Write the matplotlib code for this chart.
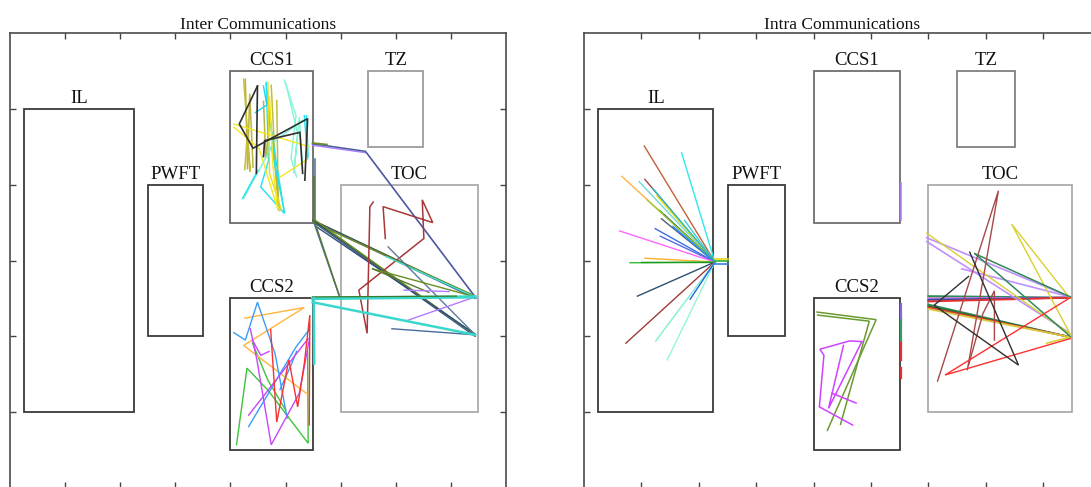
import matplotlib
matplotlib.use("Agg")
import matplotlib.pyplot as plt
from matplotlib.patches import Rectangle

plt.rcParams['font.family'] = ['Liberation Serif', 'DejaVu Serif']

# ---------------------------------------------------------------- zones
zone_names = ["IL", "PWFT", "CCS1", "TZ", "TOC", "CCS2"]
zone_x = [0.25, 2.5, 4.0, 6.5, 6.0, 4.0]
zone_y = [1.0, 2.0, 3.5, 4.5, 1.0, 0.5]
zone_w = [2.0, 1.0, 1.5, 1.0, 2.5, 1.5]
zone_h = [4.0, 2.0, 2.0, 1.0, 3.0, 2.0]
inter_edge = ['#3a3a3a', '#3a3a3a', '#6a6a6a', '#9c9c9c', '#ababab', '#3a3a3a']
intra_edge = ['#3a3a3a', '#3a3a3a', '#6e6e6e', '#808080', '#ababab', '#3a3a3a']

x_ticks = [1, 2, 3, 4, 5, 6, 7, 8]
y_ticks = [1, 2, 3, 4, 5]

# ------------------------------------------------ inter communications
ccs1_black_a = [(4.49, 5.30), (4.16, 4.80), (4.41, 4.48), (5.40, 4.87), (5.35, 4.06)]
ccs1_black_b = [(4.49, 5.30), (4.47, 4.15)]
ccs1_black_c = [(4.60, 4.37), (4.62, 4.58), (5.26, 4.69), (5.31, 4.15)]
ccs1_yellow_a = [(4.06, 4.80), (5.43, 4.50)]
ccs1_yellow_b = [(4.06, 4.76), (4.52, 4.48), (4.81, 3.79), (4.90, 3.66)]
ccs1_yellow_c = [(4.68, 5.35), (4.71, 4.15), (4.92, 3.68)]
ccs1_yellow_d = [(4.90, 4.10), (5.39, 4.33)]
ccs1_yellow_e = [(4.71, 5.16), (4.77, 4.26), (4.85, 3.70)]
ccs1_olive_a = [(4.27, 5.39), (4.31, 4.20), (4.35, 5.20), (4.41, 4.23)]
ccs1_olive_b = [(4.74, 5.31), (4.81, 4.32), (4.87, 3.66), (4.84, 5.11)]
ccs1_olive_c = [(4.24, 5.39), (4.36, 4.17), (4.30, 4.60), (4.26, 4.20)]
ccs1_olive_d = [(4.60, 5.10), (4.64, 4.35), (4.72, 4.90), (4.89, 3.66)]
ccs1_cyan_a = [(4.65, 5.35), (4.69, 4.32), (4.55, 3.97), (4.98, 3.62), (4.74, 4.72), (4.65, 5.33)]
ccs1_cyan_b = [(5.38, 4.91), (5.41, 4.37)]
ccs1_cyan_c = [(5.34, 4.91), (5.40, 4.34)]
ccs1_cyan_d = [(4.50, 4.19), (4.22, 3.82)]
ccs1_cyan_e = [(4.74, 4.50), (4.98, 3.64)]
ccs1_cyan_f = [(4.60, 5.30), (4.66, 5.05), (4.45, 4.95)]
ccs1_aqua_a = [(4.24, 3.82), (4.81, 4.58), (5.31, 4.85)]
ccs1_aqua_b = [(5.00, 5.35), (5.22, 4.67), (5.15, 4.15), (5.25, 4.89), (5.31, 4.23)]
ccs1_aqua_c = [(4.98, 5.38), (5.19, 4.91), (5.10, 4.35), (5.20, 4.10)]

ccs2_blue_a = [(4.06, 2.05), (4.27, 1.95), (4.49, 2.45), (4.81, 1.77), (5.03, 0.92)]
ccs2_blue_b = [(4.33, 0.81), (5.19, 1.86), (5.43, 2.09)]
ccs2_blue_c = [(4.90, 1.30), (5.10, 1.62), (5.20, 1.80)]
ccs2_orange = [(4.26, 2.24), (5.34, 2.38), (4.24, 1.88), (5.41, 1.23)]
ccs2_red = [(4.73, 2.09), (4.84, 0.87), (5.06, 1.69), (5.22, 1.07), (5.34, 1.64),
            (5.44, 2.28), (5.43, 0.83)]
ccs2_magenta_a = [(4.36, 2.10), (4.48, 1.69), (4.74, 0.57), (5.25, 1.25), (5.43, 1.95)]
ccs2_magenta_b = [(4.33, 0.96), (5.41, 1.97)]
ccs2_magenta_c = [(4.40, 1.95), (4.55, 1.75), (4.70, 1.80)]
ccs2_green_a = [(4.11, 0.57), (4.30, 1.58), (4.68, 1.29), (5.41, 0.59), (5.40, 1.80)]
ccs2_green_b = [(4.40, 1.91), (4.68, 1.42), (5.00, 1.03)]

link_top_steel = [(5.49, 4.54), (6.45, 4.44), (8.44, 2.52)]
link_top_violet = [(5.49, 4.52), (6.47, 4.42), (8.46, 2.50)]
link_top_olive = [(5.49, 4.55), (5.75, 4.53)]
link_side_steel = [(5.53, 4.34), (5.53, 3.53)]
link_side_green = [(5.51, 4.10), (5.51, 3.55)]
fan_up_a = [(5.50, 3.53), (8.44, 2.52)]
fan_up_b = [(5.52, 3.51), (8.44, 2.50)]
fan_up_c = [(5.50, 3.50), (8.42, 2.54)]
fan_lo_a = [(5.50, 3.53), (8.44, 2.02)]
fan_lo_b = [(5.52, 3.50), (8.44, 2.00)]
fan_lo_c = [(5.50, 3.55), (8.40, 2.04)]
fan_lo_d = [(5.55, 3.45), (8.44, 2.03)]
fan_drop_a = [(5.50, 3.53), (5.98, 2.52)]
fan_drop_b = [(5.52, 3.53), (5.97, 2.55)]
toc_cyan_a = [(6.83, 3.05), (8.44, 2.52)]
toc_steel_a = [(6.86, 3.18), (8.44, 2.02)]
toc_olive_a = [(6.58, 2.89), (8.44, 2.52)]
toc_olive_b = [(6.58, 2.89), (7.60, 2.58)]
toc_steel_b = [(6.93, 2.10), (8.44, 2.02)]
toc_violet_a = [(7.21, 2.21), (8.44, 2.52)]
toc_violet_b = [(7.15, 2.61), (7.97, 2.59)]
toc_brown = [(6.81, 3.29), (6.77, 3.71), (7.67, 3.50), (7.48, 3.80), (7.51, 3.29),
             (6.33, 2.61), (6.48, 2.04), (6.53, 3.71), (6.59, 3.77)]
ccs2_link_cyan_a = [(5.49, 2.50), (8.44, 2.52)]
ccs2_link_green = [(5.49, 2.52), (8.10, 2.53)]
ccs2_link_cyan_b = [(5.49, 2.45), (8.44, 2.02)]
ccs2_link_cyan_c = [(5.51, 2.50), (5.52, 1.64)]

inter_traces = [
    (ccs1_olive_a, '#bdb43a', 1.1), (ccs1_olive_b, '#c4bc3c', 1.1),
    (ccs1_olive_c, '#c4bc3c', 1.1), (ccs1_olive_d, '#bdb43a', 1.1),
    (ccs1_aqua_a, '#7ff0dc', 1.0), (ccs1_aqua_b, '#86f5d8', 1.0),
    (ccs1_aqua_c, '#86f5d8', 1.0),
    (ccs1_cyan_a, '#22e0f0', 1.0), (ccs1_cyan_b, '#22e0f0', 1.0),
    (ccs1_cyan_c, '#22e0f0', 1.0), (ccs1_cyan_d, '#22e0f0', 1.0),
    (ccs1_cyan_e, '#22e0f0', 1.0), (ccs1_cyan_f, '#22d0f8', 1.0),
    (ccs1_yellow_a, '#f4e820', 1.0), (ccs1_yellow_b, '#f4e820', 1.0),
    (ccs1_yellow_c, '#e8dc20', 1.0), (ccs1_yellow_d, '#f4e820', 1.0),
    (ccs1_yellow_e, '#f4e820', 1.0),
    (ccs1_black_a, '#303030', 1.2), (ccs1_black_b, '#303030', 1.2),
    (ccs1_black_c, '#303030', 1.2),
    (ccs2_green_a, '#3cc43c', 1.0), (ccs2_green_b, '#3cc43c', 1.0),
    (ccs2_orange, '#ffb43c', 1.0), (ccs2_blue_a, '#3a9cf8', 1.0),
    (ccs2_blue_b, '#3a9cf8', 1.0), (ccs2_blue_c, '#3a9cf8', 1.0),
    (ccs2_magenta_a, '#c846f8', 1.0), (ccs2_magenta_b, '#c846f8', 1.0),
    (ccs2_magenta_c, '#c846f8', 1.0), (ccs2_red, '#f83030', 1.0),
    (link_top_violet, '#b07cff', 1.0), (link_top_steel, '#4a5f9a', 1.1),
    (link_top_olive, '#6b8e23', 1.2),
    (link_side_steel, '#4a6a9a', 1.1), (link_side_green, '#557a2f', 1.1),
    (fan_up_a, '#2f4f2f', 1.0), (fan_up_b, '#4a6a9a', 1.0), (fan_up_c, '#6b8e23', 1.0),
    (fan_lo_a, '#2a4a2a', 1.0), (fan_lo_b, '#3b5b8b', 1.0), (fan_lo_c, '#6b8e23', 1.0),
    (fan_lo_d, '#34507a', 1.0),
    (fan_drop_a, '#4a6a9a', 1.0), (fan_drop_b, '#557a2f', 1.0),
    (toc_brown, '#a83838', 1.1),
    (toc_cyan_a, '#40e0d0', 1.0), (toc_steel_a, '#5a7a9a', 1.0),
    (toc_olive_a, '#6b8e23', 1.0), (toc_olive_b, '#557a2f', 1.0),
    (toc_steel_b, '#4a6a9a', 1.0), (toc_violet_a, '#b07cff', 1.0),
    (toc_violet_b, '#b07cff', 1.0),
    (ccs2_link_cyan_b, '#3ad8cc', 1.8), (ccs2_link_cyan_a, '#3ad8cc', 2.4),
    (ccs2_link_green, '#3a7a2a', 0.9), (ccs2_link_cyan_c, '#3ad8cc', 1.8),
]

# ------------------------------------------------ intra communications
il_hub = (2.28, 2.98)
il_fan_x = [1.05, 1.70, 0.66, 1.06, 0.96, 1.27, 1.32, 1.35, 1.24, 1.33, 0.62, 1.75,
            1.06, 0.80, 0.99, 0.93, 0.73, 1.25, 1.45, 1.85, 1.20, 1.40, 1.10, 1.55]
il_fan_y = [4.51, 4.42, 4.11, 4.07, 4.04, 3.85, 3.66, 3.55, 3.42, 3.32, 3.39, 3.53,
            3.03, 2.97, 2.98, 2.53, 1.91, 1.94, 1.69, 2.49, 3.95, 3.60, 3.80, 3.45]
il_fan_colors = ['#c0603a', '#30e8f0', '#ffb347', '#a04050', '#70d8d8', '#f0e010',
                 '#40b040', '#4c5c7c', '#3a70e0', '#5a6ae0', '#ff66ff', '#40c8d0',
                 '#ffb030', '#30c030', '#1a9a1a', '#2c5070', '#a03a3a', '#80f0d0',
                 '#90f8d8', '#2a60e0', '#30c0c0', '#1c3c6c', '#9acd32', '#1e90ff']
il_stub_y = [3.02, 2.99, 2.95]
il_stub_colors = ['#e8d820', '#30b030', '#3a80e0']

intra_ccs2_olive_a = [(4.06, 2.32), (5.09, 2.22), (4.24, 0.76)]
intra_ccs2_olive_b = [(4.07, 2.28), (4.97, 2.20), (4.47, 0.84)]
intra_ccs2_violet_a = [(4.84, 1.93), (4.63, 1.94), (4.11, 1.83), (4.18, 1.75),
                       (4.10, 1.07), (4.68, 0.83)]
intra_ccs2_violet_b = [(4.52, 1.88), (4.26, 1.05), (4.84, 1.93)]
intra_ccs2_violet_c = [(4.32, 1.25), (4.74, 1.12)]
intra_edge_blue = [(5.52, 2.43), (5.52, 2.21)]
intra_edge_green = [(5.52, 2.21), (5.52, 1.91)]
intra_edge_red_a = [(5.52, 1.91), (5.52, 1.69)]
intra_edge_red_b = [(5.52, 1.58), (5.52, 1.45)]
intra_ccs1_edge = [(5.53, 4.02), (5.53, 3.53)]

intra_toc_brown_a = [(6.16, 1.41), (7.22, 3.92), (6.68, 1.56)]
intra_toc_brown_b = [(6.70, 1.62), (6.95, 2.30), (7.15, 2.60), (7.15, 1.95)]
intra_toc_red = [(8.47, 2.51), (6.29, 1.49), (8.47, 1.97)]
intra_toc_black = [(6.72, 3.11), (7.57, 1.62), (6.10, 2.41), (6.70, 2.79)]
intra_toc_yellow_a = [(8.47, 2.50), (7.45, 3.48), (8.47, 2.03)]
intra_toc_yellow_b = [(5.97, 3.36), (8.47, 2.03)]
intra_toc_yellow_c = [(8.06, 1.91), (8.47, 1.99)]
intra_toc_violet_a = [(5.97, 3.30), (8.47, 2.52)]
intra_toc_violet_b = [(5.97, 3.25), (8.45, 2.05)]
intra_toc_violet_c = [(6.58, 2.89), (8.47, 2.52)]
intra_toc_green_a = [(6.81, 3.09), (8.47, 2.52)]
intra_toc_green_b = [(6.81, 3.09), (8.47, 2.00)]
band_top_y = [2.53, 2.51, 2.50, 2.48, 2.46]
band_top_colors = ['#2e8b57', '#d8c840', '#b070ff', '#3050a0', '#e83030']
band_low_y = [2.42, 2.40, 2.38, 2.36]
band_low_colors = ['#2e8b57', '#1f6f2f', '#e83030', '#d8c840']
band_x0, band_x1 = 6.0, 8.47
band_top_end, band_low_end = 2.51, 1.99

intra_traces = [
    (intra_ccs2_olive_a, '#6b9a30', 1.1), (intra_ccs2_olive_b, '#6b9a30', 1.1),
    (intra_ccs2_violet_a, '#cc44ff', 1.1), (intra_ccs2_violet_b, '#cc44ff', 1.1),
    (intra_ccs2_violet_c, '#cc44ff', 1.1),
    (intra_edge_blue, '#8a6ad0', 1.6), (intra_edge_green, '#3a9a6a', 1.6),
    (intra_edge_red_a, '#e03030', 1.6), (intra_edge_red_b, '#e03030', 1.6),
    (intra_ccs1_edge, '#b07cff', 1.2),
    (intra_toc_violet_a, '#c090ff', 1.2), (intra_toc_violet_b, '#c090ff', 1.2),
    (intra_toc_violet_c, '#c090ff', 1.2), (intra_toc_yellow_a, '#d8d030', 1.0),
    (intra_toc_yellow_b, '#d8d030', 1.0), (intra_toc_yellow_c, '#d8d030', 1.2),
    (intra_toc_green_a, '#2e8b57', 1.1), (intra_toc_green_b, '#2e8b57', 1.1),
    (intra_toc_brown_a, '#a84848', 1.0), (intra_toc_brown_b, '#a84848', 1.0),
    (intra_toc_red, '#ff3030', 1.0), (intra_toc_black, '#303030', 1.0),
]

# ---------------------------------------------------------------- figure
W, H = 1091, 487
fig = plt.figure(figsize=(W / 100, H / 100), dpi=100)
ax_inter = fig.add_axes([10 / W, -1 / H, 496 / W, 455 / H])
ax_intra = fig.add_axes([584 / W, -1 / H, 516.6 / W, 455 / H])


def setup(ax, title, edges):
    ax.set_xlim(0, 9)
    ax.set_ylim(0, 6)
    ax.set_xticks(x_ticks)
    ax.set_yticks(y_ticks)
    ax.tick_params(direction='in', length=4, width=1.0, colors='#444444',
                   top=True, right=True, labelleft=False, labelbottom=False)
    for sp in ax.spines.values():
        sp.set_color('#4a4a4a')
        sp.set_linewidth(1.2)
    ax.set_title(title, fontsize=12.5, pad=3, color='#111111')
    for name, x, y, w, h, ec in zip(zone_names, zone_x, zone_y, zone_w, zone_h, edges):
        ax.add_patch(Rectangle((x, y), w, h, fill=False, ec=ec, lw=1.3, zorder=1))
        ax.text(x + w / 2, y + h + 0.08, name, ha='center', va='baseline',
                fontsize=13.5, color='#111111')


def draw(ax, traces):
    for pts, col, lw in traces:
        xs = [p[0] for p in pts]
        ys = [p[1] for p in pts]
        ax.plot(xs, ys, color=col, lw=lw, zorder=2, solid_joinstyle='miter')


setup(ax_inter, "Inter Communications", inter_edge)
draw(ax_inter, inter_traces)

setup(ax_intra, "Intra Communications", intra_edge)
for fx, fy, col in zip(il_fan_x, il_fan_y, il_fan_colors):
    ax_intra.plot([fx, il_hub[0]], [fy, il_hub[1]], color=col, lw=1.0, zorder=2)
for sy, col in zip(il_stub_y, il_stub_colors):
    ax_intra.plot([il_hub[0], 2.51], [sy, sy], color=col, lw=1.2, zorder=2)
for by, col in zip(band_top_y, band_top_colors):
    ax_intra.plot([band_x0, band_x1], [by, band_top_end], color=col, lw=1.4, zorder=2)
for by, col in zip(band_low_y, band_low_colors):
    ax_intra.plot([band_x0, band_x1], [by, band_low_end], color=col, lw=1.3, zorder=2)
draw(ax_intra, intra_traces)

fig.savefig("out.png", dpi=100)
